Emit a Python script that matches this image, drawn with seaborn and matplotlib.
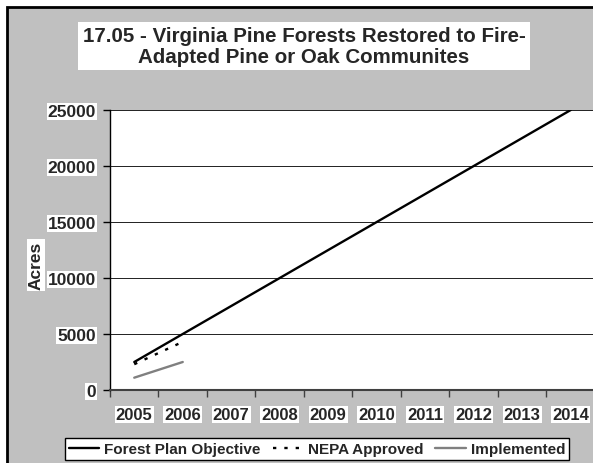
import matplotlib
matplotlib.use("Agg")
import matplotlib.pyplot as plt
import matplotlib.patches as mpatches
import seaborn as sns
import pandas as pd

# Data
years_objective = [2005, 2006, 2007, 2008, 2009, 2010, 2011, 2012, 2013, 2014]
objective = [2500, 5000, 7500, 10000, 12500, 15000, 17500, 20000, 22500, 25000]
years_nepa = [2005, 2006]
nepa_approved = [2300, 4300]
years_impl = [2005, 2006]
implemented = [1100, 2500]
series_names = ["Forest Plan Objective", "NEPA Approved", "Implemented"]
year_labels = [str(y) for y in years_objective]
y_ticks = [0, 5000, 10000, 15000, 20000, 25000]

df = pd.concat([
    pd.DataFrame({"Year": years_objective, "Acres": objective, "Series": series_names[0]}),
    pd.DataFrame({"Year": years_nepa, "Acres": nepa_approved, "Series": series_names[1]}),
    pd.DataFrame({"Year": years_impl, "Acres": implemented, "Series": series_names[2]}),
])

sns.set_style("white")
plt.rcParams["font.family"] = ["Liberation Sans", "DejaVu Sans"]
plt.rcParams["font.weight"] = "bold"

W, H = 593, 464
fig = plt.figure(figsize=(W / 100, H / 100), dpi=100, facecolor="white")

# grey chart frame
frame = mpatches.Rectangle((7 / W, -0.1), 1.2, (H - 8) / H + 0.1,
                           transform=fig.transFigure, facecolor="#c0c0c0",
                           edgecolor="black", linewidth=2, zorder=-5)
fig.patches.append(frame)

ax = fig.add_axes([110 / W, (H - 391) / H, 485 / W, 280 / H])
ax.set_zorder(2)
ax.set_facecolor("white")

NEPA_DASH = (1.4, 3.4)
palette = {series_names[0]: "black", series_names[1]: "black", series_names[2]: "#808080"}
dashes = {series_names[0]: "", series_names[1]: NEPA_DASH, series_names[2]: ""}
sns.lineplot(data=df, x="Year", y="Acres", hue="Series", style="Series",
             palette=palette, dashes=dashes, linewidth=1.7, ax=ax, legend=False,
             zorder=3)

ax.set_xlim(2004.5, 2014.5)
ax.set_ylim(0, 25000)
ax.set_yticks(y_ticks)
ax.set_yticklabels([str(v) for v in y_ticks])
ax.set_xticks(years_objective)
ax.set_xticklabels(year_labels)
ax.set_xticks([y + 0.5 for y in range(2004, 2014)], minor=True)
ax.tick_params(axis="x", which="major", length=0, pad=12, labelsize=12)
ax.tick_params(axis="x", which="minor", length=5, width=1, color="#404040",
               direction="out", bottom=True)
ax.tick_params(axis="y", which="major", length=5, width=1, color="black",
               direction="out", left=True, pad=5, labelsize=12.5)
ax.grid(axis="y", color="#202020", linewidth=0.7)
ax.set_xlabel("")
ax.set_ylabel("")
for side in ["top", "right"]:
    ax.spines[side].set_visible(False)
ax.spines["left"].set_color("black")
ax.spines["bottom"].set_color("#404040")
ax.spines["left"].set_linewidth(1)
ax.spines["bottom"].set_linewidth(1.5)

for lab in ax.get_xticklabels() + ax.get_yticklabels():
    lab.set_fontweight("bold")
    lab.set_bbox(dict(facecolor="white", edgecolor="none", pad=0.8))

fig.text(304 / W, 1 - 47 / H,
         "17.05 - Virginia Pine Forests Restored to Fire-\nAdapted Pine or Oak Communites",
         ha="center", va="center", fontsize=14.8, fontweight="bold",
         linespacing=1.12,
         bbox=dict(facecolor="white", edgecolor="none", pad=3))

fig.text(36 / W, 1 - 266 / H, "Acres", rotation=90, ha="center", va="center",
         fontsize=12.5, fontweight="bold",
         bbox=dict(facecolor="white", edgecolor="none", pad=1))

handles = [
    plt.Line2D([], [], color="black", linewidth=1.7),
    plt.Line2D([], [], color="black", linewidth=1.7, dashes=NEPA_DASH),
    plt.Line2D([], [], color="#808080", linewidth=1.7),
]
leg = fig.legend(handles, series_names, loc="center",
                 bbox_to_anchor=(317 / W, 1 - 450 / H), ncol=3, frameon=True,
                 fancybox=False, edgecolor="black", framealpha=1,
                 prop={"weight": "bold", "size": 11}, handlelength=2,
                 handletextpad=0.3, columnspacing=0.8, borderpad=0.25,
                 borderaxespad=0)
leg.get_frame().set_linewidth(1)

fig.savefig("out.png", dpi=100, facecolor="white")
